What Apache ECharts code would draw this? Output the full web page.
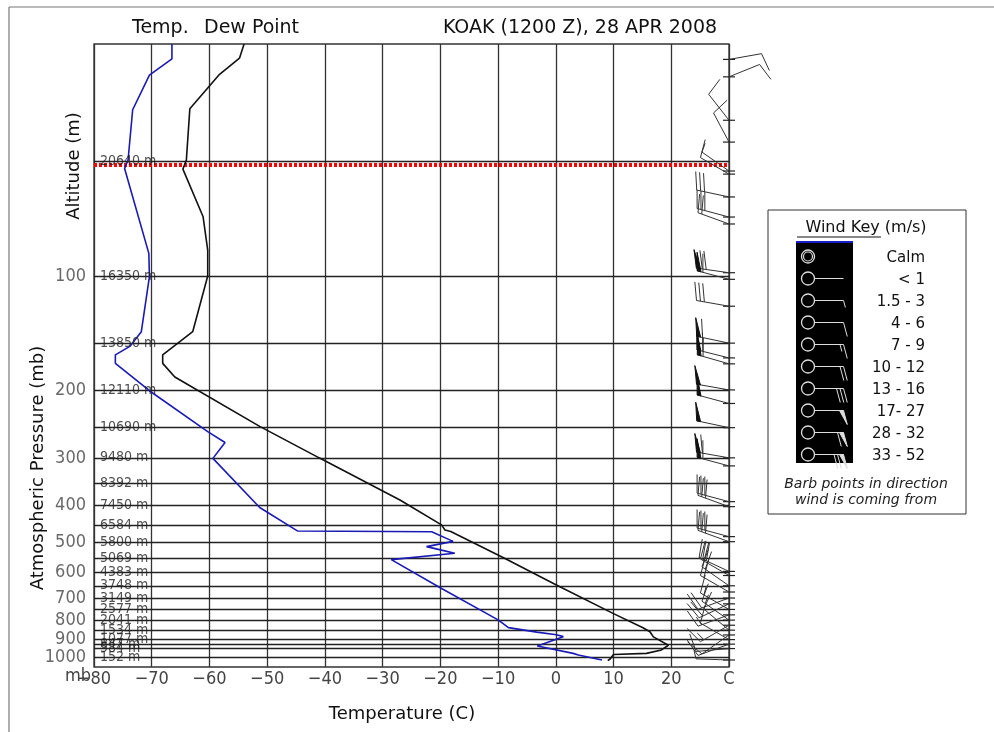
<!DOCTYPE html>
<html><head><meta charset="utf-8">
<script src="https://cdn.jsdelivr.net/npm/echarts@6/dist/echarts.min.js"></script>
<style>html,body{margin:0;padding:0;background:#fff}#c{width:994px;height:732px}</style>
</head><body><div id="c"></div>
<script>
// ---- data ----
// temperature profile [pressure mb, temperature C]
const temperature = [[24.6,-54.0],[26.8,-54.8],[29.7,-58.4],[32.1,-60.3],[36.4,-63.4],[49.6,-64.0],[52.4,-64.6],[69.9,-61.1],[85.5,-60.3],[100,-60.3],[140,-62.9],[161,-68.1],[169.5,-68.1],[184,-66.0],[248,-51.3],[300,-41.0],[387,-27.0],[450,-19.8],[464,-19.2],[468,-18.2],[473,-18.4],[551,-8.8],[647,0.1],[768,9.9],[838,15.1],[858,16.3],[885,16.9],[931,19.5],[958,18.3],[978,15.7],[985,10.0],[1012,9.4],[1022,9.0]];
// dew point profile [pressure mb, dew point C]
const dewPoint = [[24.6,-66.5],[26.9,-66.5],[29.7,-70.4],[36.6,-73.3],[49.6,-74.1],[52.2,-74.7],[87.2,-70.5],[100.4,-70.4],[140,-71.8],[153,-73.8],[161,-76.3],[169.5,-76.3],[200,-70.4],[256,-60.3],[273.5,-57.3],[301,-59.4],[405,-51.3],[467,-44.7],[469,-21.5],[497,-17.8],[513,-22.4],[524,-19.8],[534,-17.5],[555,-28.5],[657,-20.1],[799,-10.0],[837,-8.2],[860,-3.3],[874,0.1],[884,1.3],[935,-3.2],[978,3.0],[988,3.9],[1018,8.0]];
// pressure levels drawn as horizontal lines, with their heights
const levels  = [50,100,150,200,250,300,350,400,450,500,550,600,650,700,750,800,850,900,925,950,1000];
const heights = ['20640 m','16350 m','13850 m','12110 m','10690 m','9480 m','8392 m','7450 m','6584 m','5800 m','5069 m','4383 m','3748 m','3149 m','2577 m','2041 m','1534 m','1077 m','847 m','584 m','152 m'];
const tropoLevel = 51;
const pressureTicks = [100,200,300,400,500,600,700,800,900,1000];
const tempTicks  = [-80,-70,-60,-50,-40,-30,-20,-10,0,10,20,30];
const tempLabels = ['\u221280','\u221270','\u221260','\u221250','\u221240','\u221230','\u221220','\u221210','0','10','20','C'];
// wind barbs
const windP   = [27,30,39,44.5,53,54,62,70,73,98,102,120,150,164,170,199,216,250,300,315,391,403,483,498,596,611,650,675,700,725,750,775,800,825,850,875,900,925,950,1018];
const windDir = [80,68,322,332,305,300,282,285,290,278,285,280,282,284,286,280,285,282,280,285,285,290,285,290,295,300,305,300,250,245,300,250,305,240,310,235,300,250,265,272];
const windSpd = [5,5,5,5,3,5,14,14,12,34,30,14,30,30,28,25,24,22,30,28,14,15,14,13,13,12,12,11,10,10,9,8,8,7,6,6,5,4,4,3];
// wind key
const keyLabels = ['Calm','< 1','1.5 - 3','4 - 6','7 - 9','10 - 12','13 - 16','17- 27','28 - 32','33 - 52'];
const keySpeeds = [0,0.5,2,5,8,11,14,20,30,40];

const pMin = 24.6, pMax = 1062, tMin = -80, tMax = 30;

function barbShapes(bx, by, dirDeg, spd, L, F, sp) {
  const a = dirDeg * Math.PI / 180;
  const ux = Math.sin(a), uy = -Math.cos(a);
  const fx = -uy, fy = ux, sl = 0.27;
  const lines = [[bx, by, bx + ux * L, by + uy * L]];
  const polys = [];
  let nP = 0, nF = 0, nH = 0;
  if (spd < 1) {} else if (spd <= 3) nH = 1; else if (spd <= 6) nF = 1;
  else if (spd <= 9) { nF = 1; nH = 1; } else if (spd <= 12) nF = 2;
  else if (spd <= 16) nF = 3; else if (spd <= 27) nP = 1;
  else if (spd <= 32) { nP = 1; nF = 1; } else { nP = 1; nF = 2; }
  let d = L;
  const at = (dd) => [bx + ux * dd, by + uy * dd];
  for (let i = 0; i < nP; i++) {
    const p0 = at(d), p1 = at(d - 4);
    const p2 = [p0[0] + (fx + sl * ux) * F, p0[1] + (fy + sl * uy) * F];
    polys.push([p0, p2, p1]); d -= 6;
  }
  for (let i = 0; i < nF; i++) {
    const p0 = at(d);
    lines.push([p0[0], p0[1], p0[0] + (fx + sl * ux) * F, p0[1] + (fy + sl * uy) * F]); d -= sp;
  }
  for (let i = 0; i < nH; i++) {
    const p0 = at(d);
    lines.push([p0[0], p0[1], p0[0] + (fx + sl * ux) * F * 0.5, p0[1] + (fy + sl * uy) * F * 0.5]); d -= sp;
  }
  return { lines, polys };
}

const NARROW = '"Liberation Sans Narrow","DejaVu Sans Condensed","Liberation Sans",Arial,sans-serif';
const DJ = '"DejaVu Sans",Verdana,sans-serif';

// ---- wind key graphic ----
const keyEls = [];
keyEls.push({type:'rect', shape:{x:768,y:210,width:198,height:304}, style:{fill:'#fff', stroke:'#333', lineWidth:1}});
keyEls.push({type:'text', x:866, y:228, style:{text:'Wind Key (m/s)', font:'16px '+DJ, fill:'#111', align:'center', verticalAlign:'middle', textAlign:'center', textVerticalAlign:'middle'}});
keyEls.push({type:'line', shape:{x1:797,y1:237,x2:881,y2:237}, style:{stroke:'#111', lineWidth:1}});
keyEls.push({type:'rect', shape:{x:796,y:242,width:57,height:221}, style:{fill:'#000'}});
keyEls.push({type:'line', shape:{x1:796,y1:242,x2:853,y2:242}, style:{stroke:'#1c1cc8', lineWidth:2}});
keyLabels.forEach((lab, i) => {
  const cy = 258.5 + i * 22;
  keyEls.push({type:'text', x:925, y:cy, style:{text:lab, font:'15px '+DJ, fill:'#111', align:'right', verticalAlign:'middle', textAlign:'right', textVerticalAlign:'middle'}});
  keyEls.push({type:'circle', shape:{cx:808, cy:cy - 2, r:6.5}, style:{fill:'none', stroke:'#ddd', lineWidth:1.3}});
  if (i === 0) {
    keyEls.push({type:'circle', shape:{cx:808, cy:cy - 2, r:4.5}, style:{fill:'none', stroke:'#ddd', lineWidth:1.2}});
  } else {
    const s = barbShapes(814.5, cy - 2, 90, keySpeeds[i], 29, 14, 3.5);
    s.lines.forEach(l => keyEls.push({type:'line', shape:{x1:l[0],y1:l[1],x2:l[2],y2:l[3]}, style:{stroke:'#ddd', lineWidth:1}}));
    s.polys.forEach(pl => keyEls.push({type:'polygon', shape:{points:pl}, style:{fill:'#ddd', stroke:'#ddd', lineWidth:1}}));
  }
});
keyEls.push({type:'text', x:866, y:484, style:{text:'Barb points in direction', font:'italic 14px '+DJ, fill:'#222', align:'center', verticalAlign:'middle', textAlign:'center', textVerticalAlign:'middle'}});
keyEls.push({type:'text', x:866, y:500, style:{text:'wind is coming from', font:'italic 14px '+DJ, fill:'#222', align:'center', verticalAlign:'middle', textAlign:'center', textVerticalAlign:'middle'}});

const textEls = [
  {type:'line', shape:{x1:9,y1:7,x2:994,y2:7}, style:{stroke:'#777', lineWidth:1.2}},
  {type:'line', shape:{x1:9,y1:7,x2:9,y2:732}, style:{stroke:'#777', lineWidth:1.2}},
  {type:'text', x:132, y:28, style:{text:'Temp.', font:'19px '+DJ, fill:'#111', align:'left', verticalAlign:'middle', textAlign:'left', textVerticalAlign:'middle'}},
  {type:'text', x:204, y:28, style:{text:'Dew Point', font:'19px '+DJ, fill:'#111', align:'left', verticalAlign:'middle', textAlign:'left', textVerticalAlign:'middle'}},
  {type:'text', x:580, y:28, style:{text:'KOAK (1200 Z), 28 APR 2008', font:'19px '+DJ, fill:'#111', align:'center', verticalAlign:'middle', textAlign:'center', textVerticalAlign:'middle'}},
  {type:'text', x:402, y:714, style:{text:'Temperature (C)', font:'18px '+DJ, fill:'#111', align:'center', verticalAlign:'middle', textAlign:'center', textVerticalAlign:'middle'}},
  {type:'text', x:38, y:468, rotation:Math.PI/2, style:{text:'Atmospheric Pressure (mb)', font:'18px '+DJ, fill:'#111', align:'center', verticalAlign:'middle', textAlign:'center', textVerticalAlign:'middle'}},
  {type:'text', x:74, y:166, rotation:Math.PI/2, style:{text:'Altitude (m)', font:'18px '+DJ, fill:'#111', align:'center', verticalAlign:'middle', textAlign:'center', textVerticalAlign:'middle'}},
  {type:'text', x:91, y:676, z:10, style:{text:'mb', font:'18px '+NARROW, fill:'#444', align:'right', verticalAlign:'middle', textAlign:'right', textVerticalAlign:'middle'}}
];

const chart = echarts.init(document.getElementById('c'), null, {renderer:'canvas'});
chart.setOption({
  animation: false,
  backgroundColor: '#fff',
  grid: {left:94, top:44, right:265, bottom:65, show:true, borderColor:'#333', borderWidth:1.3, backgroundColor:'transparent'},
  xAxis: {
    type:'value', min:tMin, max:tMax, interval:10,
    axisLine:{show:false}, axisTick:{show:false},
    splitLine:{show:true, lineStyle:{color:'#333', width:1.3}},
    axisLabel:{margin:3, color:'#444', fontSize:18, fontFamily:NARROW,
      formatter: v => { const i = tempTicks.indexOf(v); return i >= 0 ? tempLabels[i] : ''; }}
  },
  yAxis: {
    type:'log', logBase:10, min:pMin, max:pMax, inverse:true,
    axisLine:{show:false}, axisTick:{show:false}, axisLabel:{show:false}, splitLine:{show:false}
  },
  graphic: {elements: textEls.concat(keyEls)},
  series: [
    { type:'line', data:[[tMin, 1000]], symbol:'none', lineStyle:{opacity:0}, z:1, silent:true,
      markLine:{silent:true, symbol:['none','none'], label:{show:false}, animation:false,
        lineStyle:{color:'#222', width:1.3, type:'solid'},
        data: levels.map(p => ({yAxis:p}))}
    },
    { type:'line', data:[[tMin, 1000]], symbol:'none', lineStyle:{opacity:0}, z:2, silent:true,
      markLine:{silent:true, symbol:['none','none'], label:{show:false}, animation:false,
        lineStyle:{color:'#ff0000', width:4, type:[3,2]},
        data: [{yAxis:tropoLevel}]}
    },
    { name:'Temp.', type:'line', data: temperature.map(d => [d[1], d[0]]), symbol:'none', z:5,
      lineStyle:{color:'#111', width:1.6} },
    { name:'Dew Point', type:'line', data: dewPoint.map(d => [d[1], d[0]]), symbol:'none', z:5,
      lineStyle:{color:'#1a1ab4', width:1.6} },
    { type:'scatter', symbolSize:0, z:6, silent:true,
      data: levels.map((p, i) => [tMin, p, heights[i]]),
      label:{show:true, position:'right', distance:6, color:'#222', fontSize:14, fontFamily:NARROW,
        formatter: prm => prm.value[2]} },
    { type:'scatter', symbolSize:0, z:6, silent:true,
      data: pressureTicks.map(p => [tMin, p]),
      label:{show:true, position:'left', distance:8, color:'#444', fontSize:18, fontFamily:NARROW,
        formatter: prm => String(prm.value[1])} },
    { type:'custom', z:7, clip:false, silent:true,
      data: windP.map((p, i) => [tMax, p, windDir[i], windSpd[i]]),
      encode:{x:0, y:1},
      renderItem: function(params, api) {
        const pt = api.coord([api.value(0), api.value(1)]);
        const s = barbShapes(pt[0], pt[1], api.value(2), api.value(3), 33, 18, 4);
        const children = [{type:'line', shape:{x1:pt[0]-6, y1:pt[1], x2:pt[0]+6, y2:pt[1]}, style:{stroke:'#222', lineWidth:1.2}}];
        s.lines.forEach(l => children.push({type:'line', shape:{x1:l[0],y1:l[1],x2:l[2],y2:l[3]}, style:{stroke:'#333', lineWidth:1}}));
        s.polys.forEach(pl => children.push({type:'polygon', shape:{points:pl}, style:{fill:'#111', stroke:'#111', lineWidth:1}}));
        return {type:'group', children};
      }
    }
  ]
});
</script>
</body></html>
